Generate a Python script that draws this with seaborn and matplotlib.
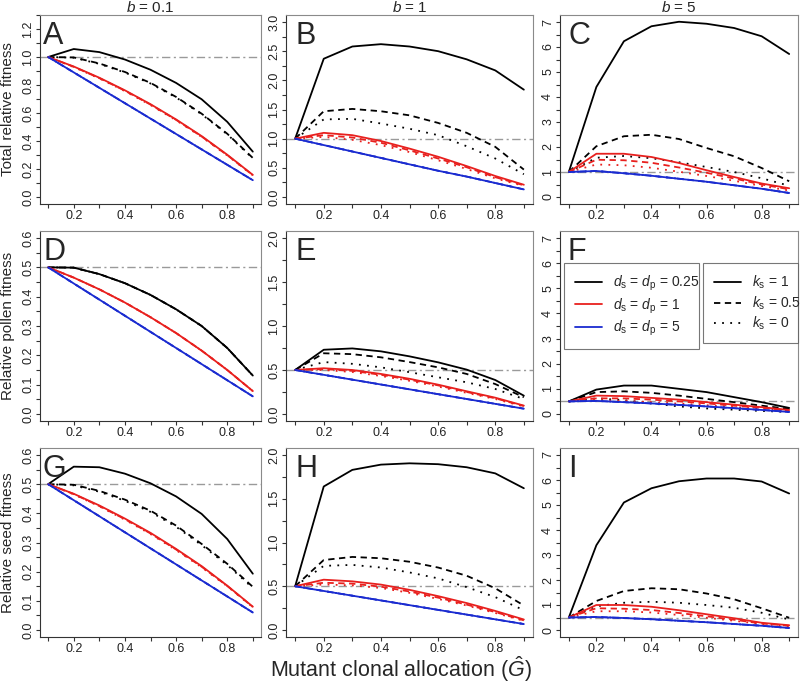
"""Relative fitness of a clonal mutant: 3x3 panel figure (b x fitness component)."""

import matplotlib

matplotlib.use("Agg")
import matplotlib.pyplot as plt
import pandas as pd
import seaborn as sns
from matplotlib.lines import Line2D
from matplotlib.ticker import FixedLocator, MultipleLocator

# ---------------------------------------------------------------- data
G_HAT = [0.1, 0.2, 0.3, 0.4, 0.5, 0.6, 0.7, 0.8, 0.9]
D_LEVELS = ["0.25", "1", "5"]          # d_s = d_p
K_LEVELS = ["1", "0.5", "0"]           # k_s
B_LEVELS = ["0.1", "1", "5"]

# each panel: one list per d level, holding the k_s = 1, 0.5, 0 curves
A_black = [[1.00, 1.057, 1.035, 0.982, 0.909, 0.815, 0.698, 0.537, 0.324],
           [1.00, 0.997, 0.954, 0.893, 0.815, 0.715, 0.595, 0.452, 0.279],
           [1.00, 0.995, 0.951, 0.889, 0.811, 0.711, 0.591, 0.448, 0.275]]
A_red = [[1.00, 0.932, 0.852, 0.762, 0.663, 0.554, 0.435, 0.302, 0.158],
         [1.00, 0.930, 0.849, 0.759, 0.660, 0.551, 0.432, 0.299, 0.156],
         [1.00, 0.928, 0.847, 0.756, 0.657, 0.548, 0.429, 0.297, 0.155]]
A_blue = [[1.00, 0.890, 0.780, 0.670, 0.560, 0.450, 0.340, 0.230, 0.120]] * 3

B_black = [[1.00, 2.37, 2.58, 2.62, 2.58, 2.50, 2.36, 2.17, 1.84],
           [1.00, 1.47, 1.51, 1.47, 1.40, 1.27, 1.10, 0.86, 0.47],
           [1.00, 1.33, 1.34, 1.26, 1.17, 1.06, 0.87, 0.66, 0.39]]
B_red = [[1.00, 1.10, 1.06, 0.96, 0.83, 0.69, 0.53, 0.36, 0.21],
         [1.00, 1.06, 1.02, 0.93, 0.80, 0.66, 0.51, 0.34, 0.20],
         [1.00, 1.03, 0.98, 0.89, 0.77, 0.63, 0.48, 0.32, 0.19]]
B_blue = [[1.00, 0.89, 0.78, 0.67, 0.56, 0.45, 0.35, 0.24, 0.13]] * 3

C_black = [[1.00, 4.40, 6.23, 6.83, 7.01, 6.93, 6.76, 6.43, 5.72],
           [1.00, 2.03, 2.43, 2.49, 2.32, 1.96, 1.63, 1.16, 0.63],
           [1.00, 1.57, 1.64, 1.55, 1.39, 1.20, 1.00, 0.75, 0.45]]
C_red = [[1.00, 1.73, 1.73, 1.60, 1.36, 1.07, 0.80, 0.54, 0.35],
         [1.00, 1.49, 1.47, 1.37, 1.18, 0.97, 0.74, 0.50, 0.31],
         [1.00, 1.30, 1.27, 1.17, 1.01, 0.84, 0.65, 0.44, 0.26]]
C_blue = [[1.00, 1.04, 0.95, 0.85, 0.73, 0.61, 0.47, 0.33, 0.16]] * 3

D_black = [[0.50, 0.499, 0.477, 0.446, 0.406, 0.357, 0.300, 0.225, 0.131]] * 3
D_red = [[0.50, 0.465, 0.425, 0.380, 0.330, 0.276, 0.216, 0.150, 0.078]] * 3
D_blue = [[0.50, 0.445, 0.390, 0.335, 0.280, 0.225, 0.170, 0.115, 0.060]] * 3

E_black = [[0.50, 0.73, 0.745, 0.712, 0.655, 0.587, 0.504, 0.386, 0.208],
           [0.50, 0.69, 0.680, 0.644, 0.590, 0.530, 0.455, 0.340, 0.190],
           [0.50, 0.59, 0.570, 0.530, 0.475, 0.417, 0.360, 0.284, 0.170]]
E_red = [[0.50, 0.52, 0.500, 0.455, 0.400, 0.333, 0.258, 0.185, 0.095],
         [0.50, 0.51, 0.490, 0.445, 0.390, 0.325, 0.250, 0.178, 0.090],
         [0.50, 0.50, 0.477, 0.432, 0.377, 0.312, 0.240, 0.170, 0.085]]
E_blue = [[0.50, 0.445, 0.390, 0.335, 0.280, 0.225, 0.170, 0.115, 0.060]] * 3

F_black = [[0.50, 0.97, 1.13, 1.13, 1.00, 0.87, 0.67, 0.47, 0.24],
           [0.50, 0.87, 0.90, 0.84, 0.73, 0.60, 0.47, 0.33, 0.20],
           [0.50, 0.62, 0.55, 0.42, 0.30, 0.22, 0.17, 0.12, 0.08]]
F_red = [[0.50, 0.73, 0.71, 0.64, 0.57, 0.47, 0.37, 0.27, 0.16],
         [0.50, 0.62, 0.62, 0.57, 0.50, 0.42, 0.33, 0.24, 0.14],
         [0.50, 0.55, 0.52, 0.47, 0.41, 0.35, 0.28, 0.20, 0.12]]
F_blue = [[0.50, 0.52, 0.47, 0.42, 0.36, 0.30, 0.23, 0.16, 0.08]] * 3

G_black = [[0.50, 0.560, 0.558, 0.536, 0.503, 0.458, 0.398, 0.312, 0.193],
           [0.50, 0.498, 0.477, 0.447, 0.409, 0.358, 0.295, 0.227, 0.148],
           [0.50, 0.496, 0.474, 0.443, 0.405, 0.354, 0.291, 0.223, 0.144]]
G_red = [[0.50, 0.467, 0.427, 0.382, 0.333, 0.278, 0.219, 0.152, 0.080],
         [0.50, 0.466, 0.425, 0.380, 0.331, 0.276, 0.217, 0.151, 0.079],
         [0.50, 0.465, 0.424, 0.378, 0.329, 0.274, 0.215, 0.150, 0.078]]
G_blue = [[0.50, 0.445, 0.390, 0.335, 0.280, 0.225, 0.170, 0.115, 0.060]] * 3

H_black = [[0.50, 1.64, 1.83, 1.89, 1.905, 1.895, 1.86, 1.79, 1.62],
           [0.50, 0.80, 0.835, 0.82, 0.78, 0.714, 0.62, 0.477, 0.28],
           [0.50, 0.733, 0.744, 0.714, 0.658, 0.59, 0.49, 0.376, 0.226]]
H_red = [[0.50, 0.575, 0.556, 0.519, 0.459, 0.387, 0.308, 0.218, 0.12],
         [0.50, 0.54, 0.53, 0.495, 0.44, 0.37, 0.29, 0.205, 0.11],
         [0.50, 0.52, 0.51, 0.48, 0.425, 0.355, 0.28, 0.195, 0.105]]
H_blue = [[0.50, 0.446, 0.392, 0.338, 0.284, 0.23, 0.176, 0.122, 0.068]] * 3

I_black = [[0.50, 3.39, 5.10, 5.67, 5.95, 6.06, 6.06, 5.94, 5.46],
           [0.50, 1.16, 1.56, 1.67, 1.63, 1.46, 1.23, 0.87, 0.49],
           [0.50, 0.95, 1.09, 1.13, 1.09, 1.00, 0.89, 0.69, 0.42]]
I_red = [[0.50, 1.00, 1.00, 0.93, 0.79, 0.63, 0.47, 0.29, 0.19],
         [0.50, 0.87, 0.85, 0.80, 0.68, 0.55, 0.41, 0.26, 0.17],
         [0.50, 0.75, 0.75, 0.70, 0.60, 0.49, 0.37, 0.24, 0.14]]
I_blue = [[0.50, 0.52, 0.48, 0.43, 0.37, 0.31, 0.24, 0.17, 0.08]] * 3

ROW_LABELS = ["Total relative fitness", "Relative pollen fitness",
              "Relative seed fitness"]
REF_LEVEL = [1.0, 0.5, 0.5]
# (ymax of data range, major step) per panel
Y_SCALE = {"A": (1.25, 0.2), "B": (3.0, 0.5), "C": (7.0, 1.0),
           "D": (0.6, 0.1), "E": (2.0, 0.5), "F": (7.0, 1.0),
           "G": (0.6, 0.1), "H": (2.0, 0.5), "I": (7.0, 1.0)}
PANELS = {"A": (A_black, A_red, A_blue), "B": (B_black, B_red, B_blue),
          "C": (C_black, C_red, C_blue), "D": (D_black, D_red, D_blue),
          "E": (E_black, E_red, E_blue), "F": (F_black, F_red, F_blue),
          "G": (G_black, G_red, G_blue), "H": (H_black, H_red, H_blue),
          "I": (I_black, I_red, I_blue)}

# ---------------------------------------------------------------- style
sns.set_style("ticks")
plt.rcParams["font.family"] = ["Liberation Sans", "DejaVu Sans"]
plt.rcParams["mathtext.fontset"] = "custom"
plt.rcParams["mathtext.rm"] = "Liberation Sans"
plt.rcParams["mathtext.it"] = "Liberation Sans:italic"

PALETTE = {"0.25": "black", "1": "#e8201e", "5": "#1a2bd0"}
DASHES = {"1": "", "0.5": (3.5, 2.5), "0": (1, 3.5)}
LW = 1.3

W, H = 807, 684
COL_LEFT = [40, 286, 560]
COL_WIDTH = [221, 247, 238]
ROW_TOP = [15, 231, 448]
ROW_HEIGHT = [189, 190, 189]
LETTER_DX = [3, 10, 8]


def panel_frame(letter: str) -> pd.DataFrame:
    """Long-form table of one panel's nine curves."""
    rows = []
    for d_level, curves in zip(D_LEVELS, PANELS[letter]):
        for k_level, values in zip(K_LEVELS, curves):
            for g, v in zip(G_HAT, values):
                rows.append({"G": g, "fitness": v, "d": d_level, "k": k_level})
    return pd.DataFrame(rows)


fig = plt.figure(figsize=(W / 100, H / 100), dpi=100)

letters = "ABCDEFGHI"
for idx, letter in enumerate(letters):
    row, col = divmod(idx, 3)
    ax = fig.add_axes([COL_LEFT[col] / W,
                       1 - (ROW_TOP[row] + ROW_HEIGHT[row]) / H,
                       COL_WIDTH[col] / W, ROW_HEIGHT[row] / H])

    ax.axhline(REF_LEVEL[row], color="#9a9a9a", lw=1.0,
               dashes=(6, 2.5, 1.5, 2.5), zorder=1)

    sns.lineplot(data=panel_frame(letter), x="G", y="fitness", hue="d",
                 style="k", hue_order=D_LEVELS, style_order=K_LEVELS,
                 palette=PALETTE, dashes=DASHES, lw=LW, errorbar=None,
                 estimator=None, sort=False, legend=False, ax=ax, zorder=2)

    ymax, step = Y_SCALE[letter]
    pad = 0.04 * ymax
    ax.set_xlim(0.068, 0.932)
    ax.set_ylim(-pad, ymax + pad)
    ax.xaxis.set_major_locator(FixedLocator([0.2, 0.4, 0.6, 0.8]))
    ax.xaxis.set_minor_locator(FixedLocator([0.1, 0.3, 0.5, 0.7, 0.9]))
    ax.yaxis.set_major_locator(MultipleLocator(step))
    ax.yaxis.set_minor_locator(MultipleLocator(step / 2))
    if step < 1:
        ax.yaxis.set_major_formatter(lambda v, p: f"{v:.1f}")
    else:
        ax.yaxis.set_major_formatter(lambda v, p: f"{v:.0f}")
    ax.set_xlabel("")
    ax.set_ylabel("")

    ax.tick_params(which="both", direction="out", length=3.2, width=0.8,
                   color="#333333", labelsize=9, labelcolor="#222222")
    ax.tick_params(axis="x", which="both", pad=0.8)
    ax.tick_params(axis="y", which="both", pad=1, labelrotation=90)
    for lab in ax.get_yticklabels():
        lab.set_va("center")

    for side in ["top", "right"]:
        ax.spines[side].set_color("#8a8a8a")
        ax.spines[side].set_linewidth(0.8)
    for side in ["left", "bottom"]:
        ax.spines[side].set_color("#333333")
        ax.spines[side].set_linewidth(0.8)

    ax.text(LETTER_DX[col] / COL_WIDTH[col], 1 - 6 / ROW_HEIGHT[row], letter,
            transform=ax.transAxes, ha="left", va="top", fontsize=22)

    if row == 0:
        ax.set_title(f"$b$ = {B_LEVELS[col]}", fontsize=11, pad=1.5)

    if letter == "F":
        d_handles = [Line2D([], [], color=PALETTE[d], lw=LW) for d in D_LEVELS]
        d_labels = [r"$d_\mathrm{s}$ = $d_\mathrm{p}$ = " + d for d in D_LEVELS]
        k_handles = [Line2D([], [], color="black", lw=LW,
                            dashes=DASHES[k] if DASHES[k] else (None, None))
                     for k in K_LEVELS]
        k_labels = [r"$k_\mathrm{s}$ = " + k for k in K_LEVELS]
        common = dict(loc="upper left", mode="expand", borderaxespad=0,
                      frameon=True, fancybox=False, fontsize=10,
                      handlelength=1.9, handletextpad=0.8,
                      labelspacing=0.22, borderpad=0.8)
        leg1 = ax.legend(d_handles, d_labels,
                         bbox_to_anchor=(0.017, 0.495, 0.567, 0.337), **common)
        leg1.get_frame().set_edgecolor("#555555")
        leg1.get_frame().set_linewidth(0.8)
        ax.add_artist(leg1)
        leg2 = ax.legend(k_handles, k_labels,
                         bbox_to_anchor=(0.601, 0.495, 0.399, 0.337), **common)
        leg2.get_frame().set_edgecolor("#555555")
        leg2.get_frame().set_linewidth(0.8)

for row, label in enumerate(ROW_LABELS):
    centre = 1 - (ROW_TOP[row] + ROW_HEIGHT[row] / 2) / H
    fig.text(8.5 / W, centre, label, rotation=90, ha="center", va="center",
             fontsize=11)

fig.text(401 / W, 1 - 676.5 / H, r"Mutant clonal allocation ($\hat{G}$)",
         ha="center", va="baseline", fontsize=15.5)

fig.savefig("out.png", dpi=100)
